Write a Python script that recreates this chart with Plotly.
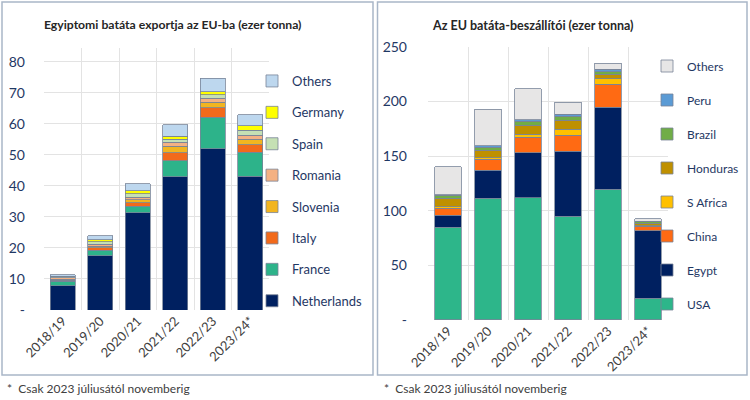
import plotly.graph_objects as go

seasons = ["2018/19", "2019/20", "2020/21", "2021/22", "2022/23", "2023/24*"]

# Left chart: Egyptian sweet potato exports to the EU (thousand tonnes)
left_names = ["Netherlands", "France", "Italy", "Slovenia", "Romania", "Spain", "Germany", "Others"]
netherlands = [7.8, 17.5, 31.4, 42.9, 52.0, 43.2]
france = [1.5, 1.8, 2.0, 5.3, 10.2, 7.7]
italy = [0.3, 0.7, 1.2, 2.5, 3.0, 2.4]
slovenia = [0.3, 0.5, 1.0, 2.1, 1.8, 1.7]
romania = [0.5, 0.7, 0.8, 1.3, 1.3, 1.3]
spain = [0.3, 0.8, 1.1, 0.9, 1.2, 1.6]
germany = [0.2, 0.7, 0.9, 1.0, 0.9, 1.6]
others_l = [0.5, 1.2, 2.3, 3.8, 4.4, 3.4]
left_values = [netherlands, france, italy, slovenia, romania, spain, germany, others_l]
left_colors = ["#002060", "#2DB38A", "#F26A1B", "#F2B520", "#F4B183", "#C5E0B4", "#FFFF00", "#BDD7EE"]

# Right chart: EU sweet potato suppliers (thousand tonnes)
right_names = ["USA", "Egypt", "China", "S Africa", "Honduras", "Brazil", "Peru", "Others"]
usa = [85.0, 111.5, 112.0, 95.0, 119.7, 19.7]
egypt = [11.0, 25.5, 41.0, 59.5, 74.8, 62.1]
china = [6.0, 10.0, 14.3, 14.3, 21.2, 3.9]
s_africa = [1.5, 1.5, 2.4, 5.5, 4.9, 0.5]
honduras = [8.0, 7.0, 8.5, 8.4, 4.2, 2.5]
brazil = [2.5, 2.5, 3.6, 3.7, 2.5, 1.2]
peru = [0.5, 1.5, 1.5, 1.6, 2.1, 0.5]
others_r = [25.5, 33.5, 28.2, 11.4, 5.4, 2.0]
right_values = [usa, egypt, china, s_africa, honduras, brazil, peru, others_r]
right_colors = ["#2DB68A", "#002060", "#FF6A13", "#FFC000", "#BF9000", "#70AD47", "#5B9BD5", "#E7E6E6"]

left_ticks = [0, 10, 20, 30, 40, 50, 60, 70, 80]
right_ticks = [0, 50, 100, 150, 200, 250]

W, H = 750, 400
FONT = "Lato"
NAVY = "#1F3864"
GRID = "#E3E3E3"
OUTLINE = "rgba(120,132,152,1)"

def px(x):
    return x / W

def py(y):
    return 1 - y / H

fig = go.Figure()

n = len(left_names)
for i, (name, vals, col) in enumerate(zip(left_names, left_values, left_colors)):
    fig.add_trace(go.Bar(
        x=seasons, y=vals, name=name, marker=dict(color=col, line=dict(color=OUTLINE, width=0.8)),
        xaxis="x", yaxis="y", legend="legend", legendgroup="L" + name, legendrank=100 + n - i,
        hoverinfo="skip"))

for i, (name, vals, col) in enumerate(zip(right_names, right_values, right_colors)):
    fig.add_trace(go.Bar(
        x=seasons, y=vals, name=name, marker=dict(color=col, line=dict(color=OUTLINE, width=0.8)),
        xaxis="x2", yaxis="y2", legend="legend2", legendgroup="R" + name, legendrank=100 + n - i,
        hoverinfo="skip"))

xcommon = dict(tickangle=-45, tickson="boundaries", showgrid=True, gridcolor=GRID, gridwidth=1,
               ticks="", tickfont=dict(family=FONT, size=13, color="#404040"), showline=False,
               zeroline=False, fixedrange=True, automargin=False)

fig.update_layout(
    width=W, height=H, margin=dict(l=0, r=0, t=0, b=0, autoexpand=False),
    paper_bgcolor="white", plot_bgcolor="white",
    barmode="stack", bargap=0.33,
    font=dict(family=FONT, color=NAVY),
    showlegend=True,
    xaxis=dict(domain=[px(44), px(269)], anchor="y", **xcommon),
    yaxis=dict(domain=[py(310), py(48)], anchor="x", range=[0, 84.5],
               tickvals=left_ticks, ticktext=["-" if v == 0 else str(v) for v in left_ticks],
               showgrid=True, gridcolor=GRID, zeroline=False, ticks="", ticklabelstandoff=18,
               tickfont=dict(family=FONT, size=14, color=NAVY), fixedrange=True, automargin=False),
    xaxis2=dict(domain=[px(428), px(668)], anchor="y2", **xcommon),
    yaxis2=dict(domain=[py(320), py(46.7)], anchor="x2", range=[0, 250],
                tickvals=right_ticks, ticktext=["-" if v == 0 else str(v) for v in right_ticks],
                showgrid=True, gridcolor=GRID, zeroline=False, ticks="", ticklabelstandoff=20,
                tickfont=dict(family=FONT, size=14, color=NAVY), fixedrange=True, automargin=False),
    legend=dict(x=px(252), y=py(66), xanchor="left", yanchor="top", traceorder="grouped",
                tracegroupgap=11.5, font=dict(family=FONT, size=13, color=NAVY),
                bgcolor="rgba(0,0,0,0)", itemwidth=30, itemclick=False, itemdoubleclick=False),
    legend2=dict(x=px(647), y=py(51.5), xanchor="left", yanchor="top", traceorder="grouped",
                 tracegroupgap=15, font=dict(family=FONT, size=12, color=NAVY),
                 bgcolor="rgba(0,0,0,0)", itemwidth=30, itemclick=False, itemdoubleclick=False),
)

# Chart titles
fig.add_annotation(text="<b>Egyiptomi batáta exportja az EU-ba (ezer tonna)</b>", x=px(42), y=py(24),
                   xref="paper", yref="paper", xanchor="left", yanchor="middle", showarrow=False,
                   font=dict(family=FONT, size=12.2, color="#262626"))
fig.add_annotation(text="<b>Az EU batáta-beszállítói (ezer tonna)</b>", x=px(430), y=py(25),
                   xref="paper", yref="paper", xanchor="left", yanchor="middle", showarrow=False,
                   font=dict(family=FONT, size=12.5, color="#262626"))

# Footnotes
for fx in (5, 382):
    fig.add_annotation(text="*  Csak 2023 júliusától novemberig", x=px(fx), y=py(388),
                       xref="paper", yref="paper", xanchor="left", yanchor="middle", showarrow=False,
                       font=dict(family=FONT, size=12, color="#404040"))

# Panel frames
for x0, x1 in ((2, 373), (377.5, 747)):
    fig.add_shape(type="rect", xref="paper", yref="paper", x0=px(x0), x1=px(x1), y0=py(375), y1=py(2),
                  line=dict(color="#A9B6C8", width=1.5), fillcolor="rgba(0,0,0,0)", layer="below")

fig.write_html("out.html", config={"displayModeBar": False, "staticPlot": True})
